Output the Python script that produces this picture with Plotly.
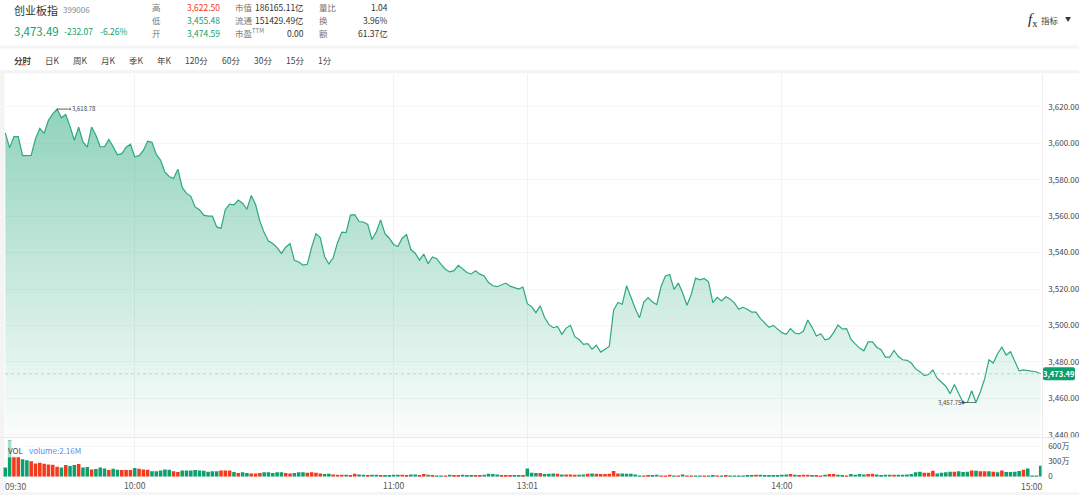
#!/usr/bin/env python3
"""Intraday chart for the ChiNext index (创业板指) with a volume panel"""

import plotly.graph_objects as go
from plotly.subplots import make_subplots

W, H = 1080, 500
FONT = "Noto Sans CJK SC"
GREEN = "#0e9f6e"
RED = "#f5391c"
LINE = "#2ca87f"

# minute labels, morning then afternoon session
times = [f"{9 + (m // 60)}:{m % 60:02d}".zfill(5) for m in range(30, 151)]
times += [f"{13 + (m // 60)}:{m % 60:02d}" for m in range(1, 121)]

prices = [
    3605.7, 3597.5, 3603.7, 3603.7, 3593.2, 3593.4, 3593.4, 3602.6, 3608.2, 3605.5,
    3612.6, 3616.2, 3618.78, 3614.0, 3615.8, 3609.3, 3601.7, 3608.8, 3600.8, 3597.9,
    3608.9, 3604.4, 3598.1, 3598.1, 3602.1, 3598.1, 3593.7, 3594.3, 3597.9, 3599.5,
    3592.6, 3593.2, 3596.1, 3601.2, 3600.6, 3593.9, 3590.7, 3584.1, 3581.8, 3580.7,
    3585.8, 3575.8, 3572.5, 3570.9, 3565.1, 3563.5, 3560.6, 3560.0, 3560.0, 3554.1,
    3553.3, 3563.7, 3566.6, 3566.2, 3568.9, 3567.1, 3563.8, 3571.3, 3566.4, 3557.3,
    3551.0, 3546.4,
    3545.0, 3542.8, 3539.6, 3543.0, 3545.0, 3535.8, 3534.9, 3533.2, 3533.6, 3542.8,
    3550.4, 3548.3, 3537.9, 3533.8, 3537.2, 3545.4, 3551.3, 3551.0, 3560.6, 3560.9,
    3557.1, 3556.8, 3555.5, 3547.2, 3551.5, 3558.0, 3550.4, 3547.9, 3544.5, 3543.4,
    3547.9, 3549.9, 3541.7, 3539.7, 3535.9, 3539.2, 3533.9, 3537.6, 3536.7, 3533.6,
    3530.9, 3529.4, 3530.1, 3533.0, 3531.2, 3529.1, 3528.3, 3530.0, 3528.2, 3527.2,
    3523.6, 3521.8, 3521.3, 3522.5, 3523.3, 3521.6, 3520.7, 3520.0, 3521.1, 3512.0,
    3510.4, 3507.1,
    3510.8, 3504.4, 3500.6, 3498.8, 3499.5, 3495.2, 3498.6, 3500.1, 3493.9, 3492.3,
    3489.7, 3490.1, 3487.0, 3489.2, 3485.4, 3486.8, 3488.5, 3508.4, 3512.6, 3511.7,
    3521.8, 3515.7, 3509.3, 3504.2, 3512.9, 3515.3, 3512.9, 3511.5, 3521.4, 3527.2,
    3528.0, 3519.8, 3523.3, 3518.0, 3511.1, 3517.1, 3526.0, 3525.1, 3525.8, 3524.0,
    3512.6, 3515.5, 3513.5, 3515.8, 3514.6, 3512.4, 3508.9, 3510.0, 3508.9, 3507.3,
    3507.3, 3503.9, 3501.7, 3499.0, 3500.1, 3498.3, 3496.1, 3495.2, 3498.3, 3495.9,
    3495.4, 3497.0, 3503.0,
    3499.0, 3494.3, 3495.5, 3492.1, 3492.8, 3496.1, 3500.3, 3498.1, 3498.3, 3492.5,
    3489.9, 3487.6, 3486.1, 3491.0, 3491.0, 3488.1, 3486.7, 3482.7, 3482.7, 3486.3,
    3483.0, 3481.2, 3480.9, 3479.4, 3476.2, 3474.7, 3472.5, 3473.1, 3475.6, 3471.1,
    3468.9, 3466.7, 3462.6, 3467.6, 3462.6, 3457.75, 3457.75, 3464.2, 3457.75, 3463.5,
    3470.7, 3481.2, 3479.4, 3484.5, 3488.1, 3483.8, 3485.6, 3480.3, 3475.1, 3475.6,
    3475.3, 3474.7, 3474.5, 3473.49,
]

# volume per minute, in 万
volumes = [
    185, 726, 396, 396, 350, 330, 310, 264, 277, 257, 244, 238, 198, 185, 231, 211,
    231, 251, 185, 191, 145, 152, 185, 165, 132, 158, 139, 132, 132, 132, 172, 158,
    145, 139, 106, 106, 125, 145, 139, 106, 92, 125, 125, 125, 132, 125, 119, 99,
    106, 106, 125, 125, 125, 92, 73, 86, 73, 66, 66, 73, 86, 86,
    73, 86, 86, 73, 66, 73, 86, 86, 79, 86, 79, 66, 53, 59, 46, 40,
    40, 40, 33, 59, 46, 40, 33, 40, 40, 33, 33, 33, 40, 40, 40, 33,
    46, 46, 33, 53, 40, 33, 26, 20, 26, 40, 33, 33, 40, 33, 33, 33,
    33, 40, 59, 53, 46, 33, 33, 33, 33, 33, 33, 165, 79, 73,
    73, 53, 59, 66, 59, 46, 46, 46, 40, 40, 46, 59, 66, 59, 53, 53,
    59, 112, 66, 66, 59, 59, 46, 26, 26, 33, 33, 40, 26, 26, 40, 26,
    20, 46, 26, 26, 26, 26, 20, 20, 33, 20, 20, 33, 20, 20, 20, 20,
    33, 33, 40, 40, 33, 33, 33, 33, 40, 46, 53, 40, 33, 40, 40,
    33, 33, 26, 40, 53, 53, 40, 33, 20, 53, 40, 53, 46, 53, 59, 46,
    33, 40, 40, 40, 40, 40, 46, 53, 86, 99, 79, 79, 119, 66, 79, 86,
    99, 99, 106, 92, 99, 125, 119, 106, 106, 106, 99, 86, 125, 92, 92, 99,
    112, 139, 165, 20, 13, 218,
]

# r = up minute, g = down minute
vol_dirs = list(
    "ggrrggrrrr" "rrrgrggrgg" "rgggrggrrr" "grrrgggggr" "rggggggggg" "rrrgrggrrr" "gg"
    "gggrrgggrr" "rrggrrrgrr" "ggrggrgggg" "rrggrrgrgg" "rgrrgggrrg" "gggrrrggrg" "gg"
    "rgggrgrrrg" "grgrrrrrrg" "ggggrrggrr" "rgrgrrggrg" "grgrgggggg" "rgggggggrg" "rrr"
    "grrgrrggrg" "gggrrggggr" "ggggggrrrg" "gggrgggrgr" "rgrgrggggr" "gggg"
)

y_ticks = [3440, 3460, 3480, 3500, 3520, 3540, 3560, 3580, 3600, 3620]
vol_ticks = [0, 300, 600]
vol_tick_labels = ["0", "300万", "600万"]
x_ticks = ["10:00", "11:00", "13:01", "14:00"]

last_price = 3473.49
high_label = "3,618.78"
low_label = "3,457.75"

header_left = [
    ("创业板指", 14, 10, 11, "#333333"),
    ("399006", 63, 10, 8, "#888888"),
    ("3,473.49", 14, 31, 11.5, GREEN),
    ("-232.07", 64, 31, 8.5, GREEN),
    ("-6.26%", 100, 31, 8.5, GREEN),
    ("高", 152, 7, 8.5, "#777777"),
    ("低", 152, 20, 8.5, "#777777"),
    ("开", 152, 33, 8.5, "#777777"),
    ("市值", 235, 7, 8.5, "#777777"),
    ("流通", 235, 20, 8.5, "#777777"),
    ("市盈<sup>TTM</sup>", 235, 33, 8.5, "#777777"),
    ("量比", 319, 7, 8.5, "#777777"),
    ("换", 319, 20, 8.5, "#777777"),
    ("额", 319, 33, 8.5, "#777777"),
    ("指标", 1042, 20, 8.5, "#444444"),
]
header_right = [
    ("3,622.50", 220, 7, RED),
    ("3,455.48", 220, 20, GREEN),
    ("3,474.59", 220, 33, GREEN),
    ("186165.11亿", 304, 7, "#333333"),
    ("151429.49亿", 304, 20, "#333333"),
    ("0.00", 304, 33, "#333333"),
    ("1.04", 388, 7, "#333333"),
    ("3.96%", 388, 20, "#333333"),
    ("61.37亿", 388, 33, "#333333"),
]
tabs = [
    ("分时", 14), ("日K", 45), ("周K", 73), ("月K", 101), ("季K", 129), ("年K", 157),
    ("120分", 185), ("60分", 222), ("30分", 254), ("15分", 286), ("1分", 318),
]


def px_x(x):
    return x / W


def px_y(y):
    return 1 - y / H


def add_text(fig, text, x, y, size, color, anchor="left", family=FONT):
    # annotations carry about 2px of padding, take it back off
    x = x - 2 if anchor == "left" else x + 2
    fig.add_annotation(
        text=text, xref="paper", yref="paper", x=px_x(x), y=px_y(y),
        xanchor=anchor, yanchor="middle", showarrow=False,
        font=dict(family=family, size=size, color=color)
    )


def add_box(fig, x0, y0, x1, y1, color, layer="below", opacity=1):
    fig.add_shape(
        type="rect", xref="paper", yref="paper",
        x0=px_x(x0), x1=px_x(x1), y0=px_y(y0), y1=px_y(y1),
        fillcolor=color, line_width=0, layer=layer, opacity=opacity
    )


def rounded_tag_path(x0, y0, x1, y1, r):
    left, right = px_x(x0), px_x(x1)
    top, bottom = px_y(y0), px_y(y1)
    rx, ry = r / W, r / H
    return (
        f"M {left + rx} {top} L {right - rx} {top} Q {right} {top} {right} {top - ry} "
        f"L {right} {bottom + ry} Q {right} {bottom} {right - rx} {bottom} "
        f"L {left + rx} {bottom} Q {left} {bottom} {left} {bottom + ry} "
        f"L {left} {top - ry} Q {left} {top} {left + rx} {top} Z"
    )


fig = make_subplots(rows=2, cols=1, shared_xaxes=True)

# price line with the fading area under it
fig.add_trace(
    go.Scatter(
        x=times, y=prices, mode="lines",
        line=dict(color=LINE, width=1.2),
        fill="tozeroy",
        fillgradient=dict(
            type="vertical", start=3438.5, stop=3620,
            colorscale=[[0, "rgba(14,159,110,0.01)"], [1, "rgba(14,159,110,0.46)"]],
        ),
        hoverinfo="skip",
    ),
    row=1, col=1
)

# high and low markers
hi = prices.index(max(prices))
lo = prices.index(min(prices))
fig.add_trace(
    go.Scatter(
        x=[times[hi], times[hi + 3]], y=[prices[hi], prices[hi]], mode="lines+markers",
        line=dict(color="#333333", width=0.8),
        marker=dict(size=[0, 3], color="#333333"),
    ),
    row=1, col=1
)
fig.add_trace(
    go.Scatter(
        x=[times[lo], times[lo + 3]], y=[prices[lo], prices[lo]], mode="lines+markers",
        line=dict(color="#555555", width=0.8),
        marker=dict(size=[3, 0], color="#333333"),
    ),
    row=1, col=1
)

fig.add_trace(
    go.Bar(
        x=times, y=volumes,
        marker=dict(color=[RED if d == "r" else GREEN for d in vol_dirs], line_width=0),
    ),
    row=2, col=1
)

fig.update_layout(
    width=W, height=H,
    margin=dict(l=0, r=0, t=0, b=0),
    showlegend=False,
    paper_bgcolor="white",
    plot_bgcolor="white",
    bargap=0.18,
    font=dict(family=FONT, size=8, color="#444444"),
)

x_range = [-1.23, 240.19]
x_domain = [0, 1042.5 / W]
fig.update_xaxes(
    type="category", categoryorder="array", categoryarray=times,
    range=x_range, domain=x_domain,
    tickmode="array", tickvals=x_ticks,
    showgrid=True, gridcolor="#f2f2f2", gridwidth=1,
    zeroline=False, showline=False, ticks="",
)
fig.update_xaxes(showticklabels=False, row=1, col=1)
fig.update_xaxes(
    showticklabels=True, ticklabelstandoff=3,
    tickfont=dict(family=FONT, size=8.5, color="#555555"), row=2, col=1
)

fig.update_yaxes(
    side="right", showgrid=True, gridcolor="#f6f6f6", zeroline=False,
    showline=True, linecolor="#eeeeee", linewidth=1,
    ticks="", ticklabelstandoff=4,
    tickfont=dict(family=FONT, size=8, color="#444444"),
)
fig.update_yaxes(
    domain=[px_y(442), px_y(75)], range=[3438.5, 3637.9],
    tickmode="array", tickvals=y_ticks, tickformat=",.2f", row=1, col=1
)
fig.update_yaxes(
    domain=[px_y(481.5), px_y(442)], range=[0, 780],
    tickmode="array", tickvals=vol_ticks, ticktext=vol_tick_labels, row=2, col=1
)

# page panels and separators
add_box(fig, 0, 46, W, 49, "#f5f5f5")
add_box(fig, 0, 71, W, 74, "#f3f3f3")
add_box(fig, 0, 74, 4.5, 497, "#f4f4f4")
add_box(fig, 0, 497, W, 500, "#f5f5f5")
fig.add_shape(
    type="line", xref="paper", yref="paper", x0=0, x1=1,
    y0=px_y(442), y1=px_y(442), line=dict(color="#e8e8e8", width=1)
)

# last price
fig.add_shape(
    type="line", xref="paper", yref="y", x0=px_x(5), x1=px_x(1042),
    y0=last_price, y1=last_price, line=dict(color="#a8dcc8", width=1, dash="dot"),
    layer="above"
)
fig.add_shape(
    type="path", xref="paper", yref="paper",
    path=rounded_tag_path(1044, 371, 1076, 384, 2),
    fillcolor=GREEN, line_width=0, layer="above"
)
fig.add_annotation(
    text=f"<b>{last_price:,.2f}</b>", xref="paper", yref="y",
    x=px_x(1060), y=last_price, xanchor="center", yanchor="middle", showarrow=False,
    font=dict(family=FONT, size=7.5, color="white")
)

# extremes labels
fig.add_annotation(
    text=high_label, xref="x", yref="y", x=times[hi + 3], y=prices[hi], yshift=1,
    xanchor="left", yanchor="middle", showarrow=False,
    font=dict(family=FONT, size=6, color="#444444")
)
fig.add_annotation(
    text=low_label, xref="x", yref="y", x=times[lo], y=prices[lo],
    xanchor="right", yanchor="middle", showarrow=False,
    font=dict(family=FONT, size=6, color="#444444")
)

for text, x, y, size, color in header_left:
    add_text(fig, text, x, y, size, color)
for text, x, y, color in header_right:
    add_text(fig, text, x, y, 8.5, color, anchor="right")
for text, x in tabs:
    add_text(fig, f"<b>{text}</b>" if text == "分时" else text, x, 61, 8.5, "#444444")
add_box(fig, 19, 65, 26, 66, RED, layer="above")

add_text(fig, "<i>f</i><sub>x</sub>", 1029, 20, 15, "#222222", family="Liberation Serif")
add_text(fig, "▼", 1066, 19, 6, "#333333")

# x labels pulled inside the panel at both ends
add_text(fig, times[0], 5, 491, 8.5, "#555555")
add_text(fig, times[-1], 1044, 491, 8.5, "#555555", anchor="right")

# volume legend, on a veil over the first bars
add_box(fig, 7, 445, 22, 462, "white", layer="above", opacity=0.65)
add_text(fig, "VOL", 8, 455, 8, "#444444")
add_text(fig, "volume:2.16M", 29, 455, 8, "#5b8def")

# the browser's default body margin would push the figure off the page
fig.write_html(
    "out.html",
    config={"displayModeBar": False},
    post_script="document.documentElement.style.overflow = 'hidden';"
                "document.body.style.margin = '0';document.body.style.overflow = 'hidden';"
                "document.body.style.height = '500px';",
)
